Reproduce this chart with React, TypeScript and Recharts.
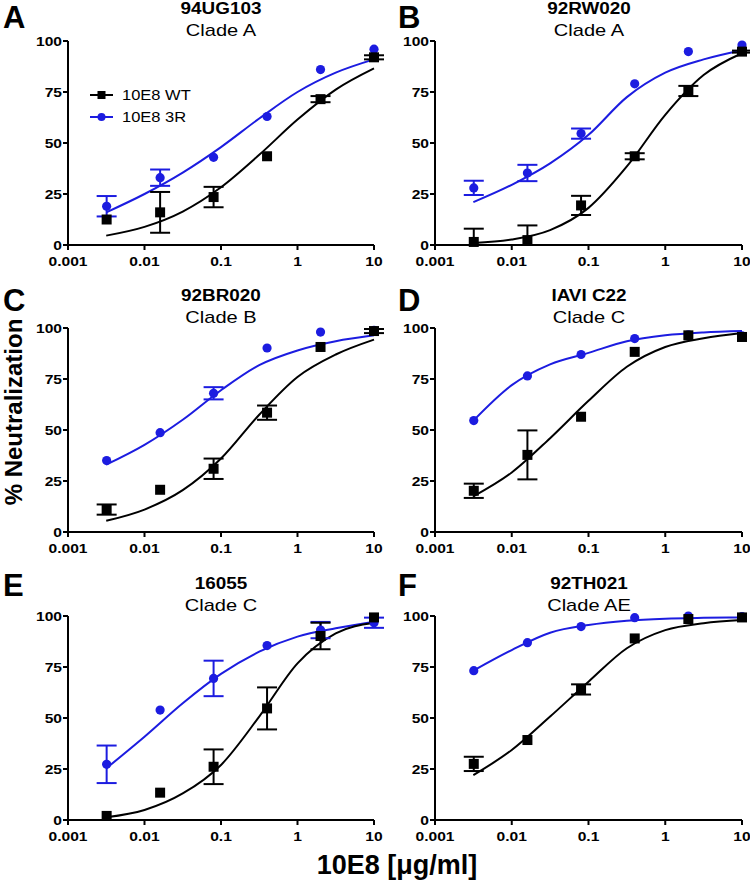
import React from 'react'
import { ComposedChart, ErrorBar, Line, Scatter, XAxis, YAxis } from 'recharts'

const DOSES = [0.0032, 0.016, 0.08, 0.4, 2, 10]
const CURVE_X = [0.00316, 0.01, 0.0316, 0.1, 0.316, 1, 3.16, 10]
const X_TICKS = [0.001, 0.01, 0.1, 1, 10]
const Y_TICKS = [0, 25, 50, 75, 100]

type Err = number | [number, number]

// A - 94UG103
const A_WT = [12.5, 16, 23.5, 43.5, 71.5, 92]
const A_WT_ERR: Err[] = [0, 10, 5, 0, 1.5, 1]
const A_3R = [19, 33, 43, 63, 86, 96]
const A_3R_ERR: Err[] = [5, 4, 0, 0, 0, 0]
const A_WT_FIT = [4.6, 8.9, 16.4, 28.3, 44.2, 61.5, 76.2, 86.6]
const A_3R_FIT = [16, 25, 35.5, 48, 62, 75, 84.5, 91]

// B - 92RW020
const B_WT = [1.5, 2.4, 19.4, 43.5, 75.5, 94.8]
const B_WT_ERR: Err[] = [[1.5, 6.5], [2.4, 7.2], 4.7, 1.5, 2.5, 0.5]
const B_3R = [28, 35.3, 54.6, 79, 94.8, 98]
const B_3R_ERR: Err[] = [3.5, 4, 2.5, 0, 0, 0]
const B_WT_FIT = [1, 2.7, 7.3, 18.2, 38.5, 63.8, 83.3, 94]
const B_3R_FIT = [21, 29.5, 40, 54, 72.5, 84.5, 91, 95.5]

// C - 92BR020
const C_WT = [11, 20.7, 31, 58.5, 90.7, 98.5]
const C_WT_ERR: Err[] = [2.5, 0, 5, 3.5, 0, 1]
const C_3R = [35, 48.7, 68, 90.2, 98, 98.9]
const C_3R_ERR: Err[] = [0, 0, 3, 0, 0, 0]
const C_WT_FIT = [5.5, 11, 20.5, 36, 57.5, 76, 87, 94.3]
const C_3R_FIT = [33, 42.7, 55, 69.5, 81.8, 89, 93.5, 96.4]

// D - IAVI C22
const D_WT = [20.2, 37.8, 56.5, 88.3, 96.4, 95.6]
const D_WT_ERR: Err[] = [3.5, 12, 0, 0, 0, 0]
const D_3R = [54.6, 76.5, 87, 94.8, 96.7, 96.1]
const D_3R_ERR: Err[] = [0, 0, 0, 0, 0, 0]
const D_WT_FIT = [17.5, 29.2, 46, 64.3, 81, 90.7, 95, 97.6]
const D_3R_FIT = [54.6, 72, 82.2, 87.8, 93.5, 96.4, 97.8, 98.5]

// E - 16055
const E_WT = [2, 13.4, 26.1, 54.7, 90.2, 99.3]
const E_WT_ERR: Err[] = [0, 0, 8.5, 10.3, 6.5, 0]
const E_3R = [27.3, 53.9, 69.4, 85.5, 93.1, 96.7]
const E_3R_ERR: Err[] = [9.2, 0, 8.7, 0, 4, 2.5]
const E_WT_FIT = [1.3, 4.9, 13, 27, 50.7, 76.8, 91.5, 96.7]
const E_3R_FIT = [25.3, 40.8, 57.2, 71.6, 82.5, 89.9, 94, 97.2]

// F - 92TH021
const F_WT = [27.5, 39.2, 64, 89, 98.5, 99.3]
const F_WT_ERR: Err[] = [3.5, 0, 2.5, 0, 0, 0]
const F_3R = [73.2, 86.9, 94.8, 99.2, 100, 99.7]
const F_3R_ERR: Err[] = [0, 0, 0, 0, 0, 0]
const F_WT_FIT = [22, 34.3, 50.7, 67.8, 84.2, 93.1, 96.5, 98]
const F_3R_FIT = [73.2, 83.3, 91.8, 95.6, 97.7, 98.7, 99.1, 99.3]

const PANELS = [
  { letter: 'A', strain: '94UG103', clade: 'Clade A', col: 0, row: 0, wt: A_WT, wtErr: A_WT_ERR, r3: A_3R, r3Err: A_3R_ERR, wtFit: A_WT_FIT, r3Fit: A_3R_FIT },
  { letter: 'B', strain: '92RW020', clade: 'Clade A', col: 1, row: 0, wt: B_WT, wtErr: B_WT_ERR, r3: B_3R, r3Err: B_3R_ERR, wtFit: B_WT_FIT, r3Fit: B_3R_FIT },
  { letter: 'C', strain: '92BR020', clade: 'Clade B', col: 0, row: 1, wt: C_WT, wtErr: C_WT_ERR, r3: C_3R, r3Err: C_3R_ERR, wtFit: C_WT_FIT, r3Fit: C_3R_FIT },
  { letter: 'D', strain: 'IAVI C22', clade: 'Clade C', col: 1, row: 1, wt: D_WT, wtErr: D_WT_ERR, r3: D_3R, r3Err: D_3R_ERR, wtFit: D_WT_FIT, r3Fit: D_3R_FIT },
  { letter: 'E', strain: '16055', clade: 'Clade C', col: 0, row: 2, wt: E_WT, wtErr: E_WT_ERR, r3: E_3R, r3Err: E_3R_ERR, wtFit: E_WT_FIT, r3Fit: E_3R_FIT },
  { letter: 'F', strain: '92TH021', clade: 'Clade AE', col: 1, row: 2, wt: F_WT, wtErr: F_WT_ERR, r3: F_3R, r3Err: F_3R_ERR, wtFit: F_WT_FIT, r3Fit: F_3R_FIT },
]

const FONT = '"Liberation Sans", Arial, Helvetica, sans-serif'
const BLUE = '#1c1ce0'

const COL_LEFT = [68, 435]
const PLOT_W = [306, 307]
const ROW_TOP = [41, 328, 616]
const PLOT_H = 204
const LETTER_BASE = [28.35, 311, 596]
const LETTER_LEFT = [3, 398]

const M_TOP = 10
const M_RIGHT = 12
const Y_W = 50
const X_H = 30

const points = (ys: number[], errs: Err[]) => DOSES.map((x, i) => ({ x, y: ys[i], err: errs[i] }))
const fit = (ys: number[]) => CURVE_X.map((x, i) => ({ x, y: ys[i] }))

const XTick = (props: any) => {
  const { x, y, payload } = props
  return (
    <text x={0} y={0} transform={`translate(${x},${y}) scale(1.2,1)`} textAnchor="middle" dy="0.71em"
      fontSize={13} fontWeight="bold" fontFamily={FONT} fill="#000">
      {String(payload.value)}
    </text>
  )
}

const YTick = (props: any) => {
  const { x, y, payload } = props
  return (
    <text x={0} y={0} transform={`translate(${x},${y}) scale(1.2,1)`} textAnchor="end" dy="0.355em"
      fontSize={13} fontWeight="bold" fontFamily={FONT} fill="#000">
      {String(payload.value)}
    </text>
  )
}

const squareShape = (p: any) => <rect x={p.cx - 5} y={p.cy - 5} width={10} height={10} fill="#000" />
const circleShape = (p: any) => <circle cx={p.cx} cy={p.cy} r={4.6} fill={BLUE} />

function Panel({ cfg }: { cfg: (typeof PANELS)[number] }) {
  const left = COL_LEFT[cfg.col] - Y_W
  const top = ROW_TOP[cfg.row] - M_TOP
  const width = Y_W + PLOT_W[cfg.col] + M_RIGHT
  const height = M_TOP + PLOT_H + X_H
  const cx = COL_LEFT[cfg.col] + PLOT_W[cfg.col] / 2
  const rowTop = ROW_TOP[cfg.row]

  return (
    <>
      <div style={{ position: 'absolute', left, top }}>
        <ComposedChart width={width} height={height} margin={{ top: M_TOP, right: M_RIGHT, bottom: 0, left: 0 }}>
          <XAxis
            dataKey="x"
            type="number"
            scale="log"
            domain={[0.001, 10]}
            ticks={X_TICKS}
            interval={0}
            height={X_H}
            axisLine={{ stroke: '#000', strokeWidth: 2 }}
            tickLine={{ stroke: '#000', strokeWidth: 2 }}
            tickSize={5}
            tickMargin={7}
            tick={<XTick />}
          />
          <YAxis
            dataKey="y"
            type="number"
            domain={[0, 100]}
            ticks={Y_TICKS}
            interval={0}
            width={Y_W}
            axisLine={{ stroke: '#000', strokeWidth: 2 }}
            tickLine={{ stroke: '#000', strokeWidth: 2 }}
            tickSize={5}
            tickMargin={1}
            tick={<YTick />}
          />
          <Line data={fit(cfg.r3Fit)} dataKey="y" type="monotone" stroke={BLUE} strokeWidth={2} dot={false} isAnimationActive={false} />
          <Line data={fit(cfg.wtFit)} dataKey="y" type="monotone" stroke="#000" strokeWidth={2} dot={false} isAnimationActive={false} />
          <Scatter data={points(cfg.r3, cfg.r3Err)} dataKey="y" shape={circleShape} isAnimationActive={false}>
            <ErrorBar dataKey="err" direction="y" width={10} strokeWidth={2} stroke={BLUE} isAnimationActive={false} />
          </Scatter>
          <Scatter data={points(cfg.wt, cfg.wtErr)} dataKey="y" shape={squareShape} isAnimationActive={false}>
            <ErrorBar dataKey="err" direction="y" width={10} strokeWidth={2} stroke="#000" isAnimationActive={false} />
          </Scatter>
        </ComposedChart>
      </div>

      <div style={{ position: 'absolute', left: LETTER_LEFT[cfg.col], top: LETTER_BASE[cfg.row] - 26.25, fontSize: 31, lineHeight: '31px', fontWeight: 'bold', fontFamily: FONT }}>
        {cfg.letter}
      </div>
      <div style={{ position: 'absolute', left: cx - 100, width: 200, top: rowTop - 32 - 9, lineHeight: '18px', textAlign: 'center', fontSize: 16, fontWeight: 'bold', fontFamily: FONT, transform: 'scaleX(1.18)' }}>
        {cfg.strain}
      </div>
      <div style={{ position: 'absolute', left: cx - 100, width: 200, top: rowTop - 10.5 - 10, lineHeight: '20px', textAlign: 'center', fontSize: 17, fontFamily: FONT, transform: 'scaleX(1.18)' }}>
        {cfg.clade}
      </div>
    </>
  )
}

function LegendRow({ y, label, color, square }: { y: number; label: string; color: string; square: boolean }) {
  return (
    <>
      <svg style={{ position: 'absolute', left: 88, top: y - 6 }} width={28} height={12}>
        <line x1={2} y1={6} x2={25} y2={6} stroke={color} strokeWidth={2} />
        {square ? <rect x={9.5} y={2} width={8} height={8} fill={color} /> : <circle cx={13.5} cy={6} r={4} fill={color} />}
      </svg>
      <div style={{ position: 'absolute', left: 122, top: y - 10, lineHeight: '20px', fontSize: 15, fontFamily: FONT, transform: 'scaleX(1.1)', transformOrigin: 'left center', whiteSpace: 'nowrap' }}>
        {label}
      </div>
    </>
  )
}

export default function App() {
  return (
    <div style={{ position: 'absolute', left: 0, top: 0, width: 750, height: 882, overflow: 'hidden', background: '#fff', color: '#000' }}>
      {PANELS.map((p) => (
        <Panel key={p.letter} cfg={p} />
      ))}
      <LegendRow y={95} label="10E8 WT" color="#000" square />
      <LegendRow y={117} label="10E8 3R" color={BLUE} square={false} />
      <div style={{ position: 'absolute', left: 13.5 - 110, top: 412 - 14, width: 220, lineHeight: '28px', textAlign: 'center', fontSize: 24, fontWeight: 'bold', fontFamily: FONT, transform: 'rotate(-90deg)', whiteSpace: 'nowrap' }}>
        % Neutralization
      </div>
      <div style={{ position: 'absolute', left: 397 - 150, top: 865 - 15, width: 300, lineHeight: '30px', textAlign: 'center', fontSize: 27, fontWeight: 'bold', fontFamily: FONT, whiteSpace: 'nowrap' }}>
        10E8 [μg/ml]
      </div>
    </div>
  )
}
